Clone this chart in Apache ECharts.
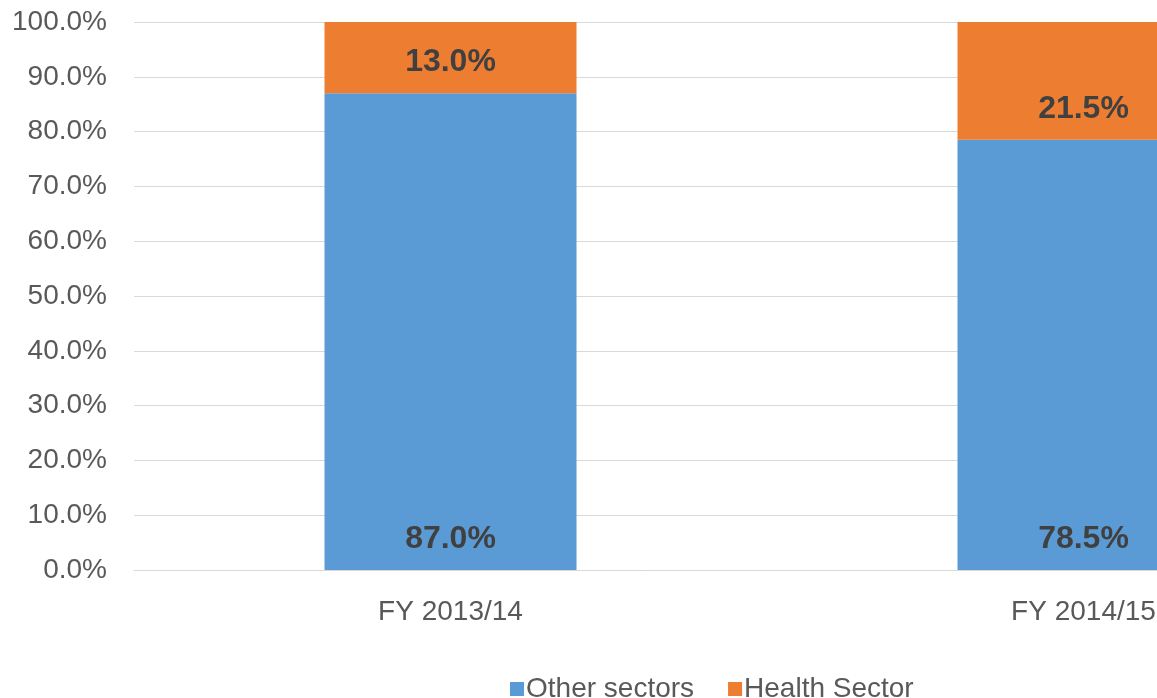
<!DOCTYPE html>
<html>
<head>
<meta charset="utf-8">
<script src="https://cdn.jsdelivr.net/npm/echarts@6/dist/echarts.min.js"></script>
<style>html,body{margin:0;padding:0;background:#fff;overflow:hidden;}#c{width:1157px;height:698px;}</style>
</head>
<body>
<div id="c"></div>
<script>
const categories = ['FY 2013/14', 'FY 2014/15'];
const otherSectors = [87.0, 78.5];
const healthSector = [13.0, 21.5];
const seriesNames = ['Other sectors', 'Health Sector'];

const chart = echarts.init(document.getElementById('c'));
const FONT = 'Liberation Sans, Arial, sans-serif';
const labelStyle = {
  show: true,
  position: 'insideBottom',
  distance: 15,
  fontFamily: FONT,
  fontSize: 32,
  fontWeight: 'bold',
  color: '#404040',
  formatter: p => p.value.toFixed(1) + '%'
};
chart.setOption({
  animation: false,
  textStyle: { fontFamily: FONT },
  grid: { left: 134, top: 22, width: 1266, height: 548, containLabel: false, outerBoundsMode: 'none' },
  xAxis: {
    type: 'category',
    data: categories,
    axisLine: { show: true, lineStyle: { color: '#d9d9d9' } },
    axisTick: { show: false },
    axisLabel: { color: '#595959', fontSize: 28, margin: 28 }
  },
  yAxis: {
    type: 'value',
    min: 0, max: 100, interval: 10,
    axisLine: { show: false },
    axisTick: { show: false },
    splitLine: { lineStyle: { color: '#d9d9d9', width: 1 } },
    axisLabel: { color: '#595959', fontSize: 28, margin: 27, formatter: v => v.toFixed(1) + '%' }
  },
  legend: {
    left: 505, top: 670,
    itemWidth: 14, itemHeight: 14, itemGap: 34,
    icon: 'rect',
    textStyle: { color: '#595959', fontSize: 28, padding: [0, 0, 0, -3] },
    data: seriesNames
  },
  series: [
    { name: seriesNames[0], type: 'bar', stack: 's', barWidth: 252, data: otherSectors,
      itemStyle: { color: '#5B9BD5' }, label: labelStyle },
    { name: seriesNames[1], type: 'bar', stack: 's', barWidth: 252, data: healthSector,
      itemStyle: { color: '#ED7D31' }, label: labelStyle }
  ]
});
</script>
</body>
</html>
